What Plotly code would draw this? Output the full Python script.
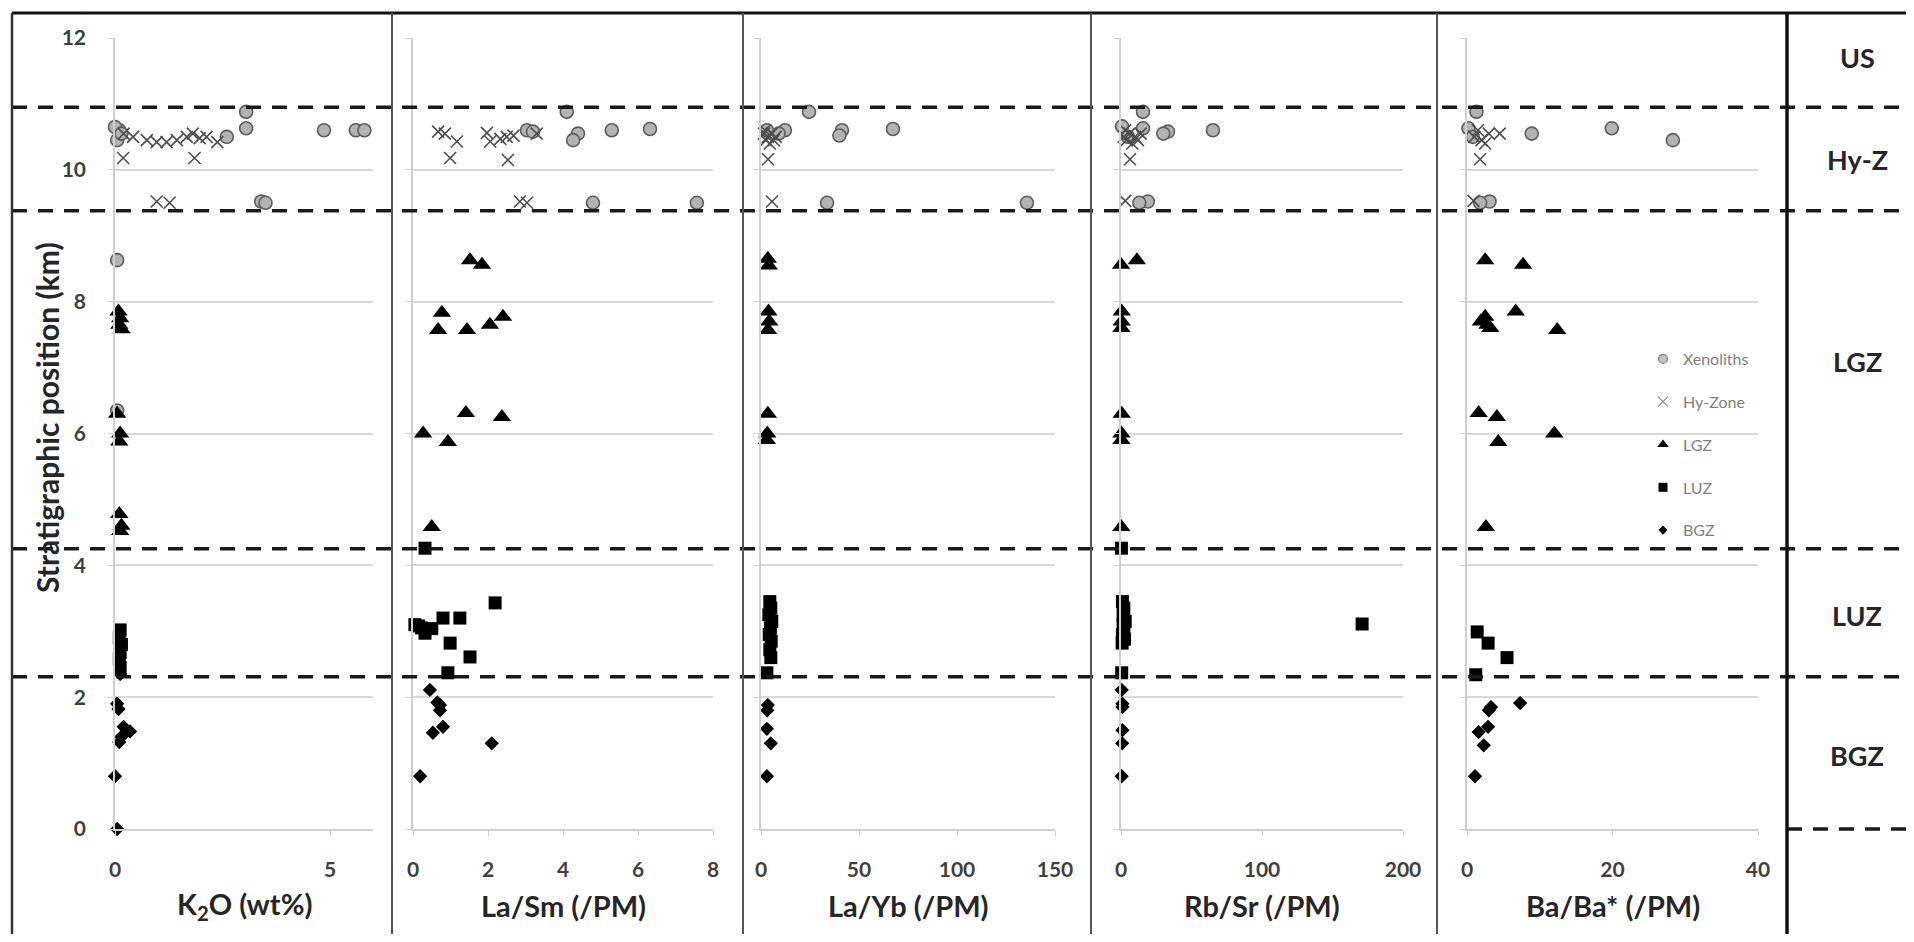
import plotly.graph_objects as go

# ---------------- data ----------------
CATEGORIES = ["Xenoliths", "Hy-Zone", "LGZ", "LUZ", "BGZ"]
X_TITLES = ["K<sub>2</sub>O (wt%)", "La/Sm (/PM)", "La/Yb (/PM)", "Rb/Sr (/PM)", "Ba/Ba* (/PM)"]
X_RANGES = [[0, 6], [0, 8], [0, 150], [0, 200], [0, 40]]
X_TICKS = [[0, 5], [0, 2, 4, 6, 8], [0, 50, 100, 150], [0, 100, 200], [0, 20, 40]]
Y_TICKS = [0, 2, 4, 6, 8, 10, 12]
ZONE_LABELS = ["US", "Hy-Z", "LGZ", "LUZ", "BGZ"]
ZONE_LABEL_Y = [11.71, 10.15, 7.09, 3.24, 1.12]
ZONE_BOUNDARIES = [10.95, 9.38, 4.25, 2.31]

# Panel 1: K2O (wt%)
K2O_XEN_X = [0.05, 0.1, 0.0, 0.15, 2.6, 3.05, 3.05, 4.86, 5.6, 5.8, 3.4, 3.5, 0.05, 0.05]
K2O_XEN_Y = [10.45, 10.6, 10.65, 10.55, 10.5, 10.88, 10.63, 10.6, 10.6, 10.6, 9.52, 9.5, 8.63, 6.35]
K2O_HYZ_X = [0.2, 0.42, 0.74, 0.97, 1.2, 1.44, 1.67, 1.81, 1.97, 2.13, 2.38, 0.19, 1.85, 0.97, 1.27]
K2O_HYZ_Y = [10.55, 10.5, 10.45, 10.42, 10.42, 10.45, 10.5, 10.55, 10.48, 10.5, 10.42, 10.18, 10.18, 9.52, 9.5]
K2O_LGZ_X = [0.08, 0.12, 0.1, 0.15, 0.05, 0.12, 0.1, 0.1, 0.15, 0.12]
K2O_LGZ_Y = [7.85, 7.75, 7.65, 7.58, 6.3, 6.0, 5.88, 4.78, 4.6, 4.52]
K2O_LUZ_X = [0.12, 0.1, 0.15, 0.12, 0.1, 0.12]
K2O_LUZ_Y = [3.02, 2.9, 2.8, 2.68, 2.58, 2.45]
K2O_BGZ_X = [0.12, 0.05, 0.08, 0.2, 0.35, 0.15, 0.1, 0.0, 0.05]
K2O_BGZ_Y = [2.35, 1.9, 1.82, 1.55, 1.48, 1.4, 1.32, 0.8, 0.0]

# Panel 2: La/Sm (/PM)
LASM_XEN_X = [4.1, 4.4, 4.27, 5.3, 6.32, 3.04, 3.2, 4.8, 7.57]
LASM_XEN_Y = [10.88, 10.55, 10.45, 10.6, 10.62, 10.6, 10.58, 9.5, 9.5]
LASM_HYZ_X = [0.67, 0.85, 1.17, 0.99, 1.97, 2.06, 2.33, 2.5, 2.68, 3.3, 2.53, 2.85, 3.04]
LASM_HYZ_Y = [10.58, 10.55, 10.43, 10.18, 10.56, 10.43, 10.47, 10.5, 10.52, 10.55, 10.15, 9.52, 9.5]
LASM_LGZ_X = [1.52, 1.84, 0.77, 0.67, 1.44, 2.05, 2.4, 0.27, 0.93, 1.41, 2.37, 0.5]
LASM_LGZ_Y = [8.63, 8.56, 7.83, 7.57, 7.57, 7.65, 7.77, 6.0, 5.87, 6.31, 6.25, 4.58]
LASM_LUZ_X = [0.32, 2.19, 0.8, 1.25, 0.05, 0.23, 0.32, 0.5, 0.99, 1.52, 0.93, 0.15]
LASM_LUZ_Y = [4.26, 3.43, 3.2, 3.2, 3.1, 3.05, 2.97, 3.04, 2.82, 2.61, 2.37, 3.08]
LASM_BGZ_X = [0.45, 0.72, 0.72, 0.8, 0.53, 2.1, 0.19, 0.65]
LASM_BGZ_Y = [2.11, 1.88, 1.8, 1.55, 1.46, 1.3, 0.8, 1.92]

# Panel 3: La/Yb (/PM)
LAYB_XEN_X = [24.5, 12.2, 9.0, 41.3, 40.0, 67.3, 33.7, 135.7, 3.0]
LAYB_XEN_Y = [10.88, 10.6, 10.55, 10.6, 10.52, 10.62, 9.5, 9.5, 10.6]
LAYB_HYZ_X = [1.5, 2.5, 3.5, 4.5, 5.5, 6.5, 7.5, 3.6, 5.6, 2.0]
LAYB_HYZ_Y = [10.55, 10.45, 10.5, 10.4, 10.55, 10.45, 10.5, 10.16, 9.52, 10.6]
LAYB_LGZ_X = [3.5, 4.0, 3.8, 4.2, 3.6, 3.5, 3.2, 3.0]
LAYB_LGZ_Y = [8.65, 8.55, 7.85, 7.7, 7.57, 6.3, 6.0, 5.9]
LAYB_LUZ_X = [4.5, 5.0, 4.0, 5.5, 4.8, 4.2, 5.2, 4.5, 5.0, 3.0]
LAYB_LUZ_Y = [3.45, 3.35, 3.25, 3.15, 3.05, 2.95, 2.85, 2.72, 2.6, 2.37]
LAYB_BGZ_X = [3.5, 3.2, 3.0, 5.0, 3.0]
LAYB_BGZ_Y = [1.88, 1.8, 1.52, 1.3, 0.8]

# Panel 4: Rb/Sr (/PM)
RBSR_XEN_X = [15.6, 15.6, 33.3, 30.0, 65.2, 0.7, 19.0, 13.0, 5.0]
RBSR_XEN_Y = [10.88, 10.63, 10.58, 10.55, 10.6, 10.66, 9.52, 9.5, 10.5]
RBSR_HYZ_X = [2, 4, 6, 8, 10, 12, 14, 3, 6.4, 3.0]
RBSR_HYZ_Y = [10.5, 10.45, 10.55, 10.4, 10.5, 10.45, 10.55, 10.6, 10.16, 9.53]
RBSR_LGZ_X = [0.0, 11.3, 0.5, 0.5, 0.3, 0.5, 0.3, 0.3, 0.2]
RBSR_LGZ_Y = [8.56, 8.63, 7.85, 7.7, 7.6, 6.3, 6.0, 5.9, 4.58]
RBSR_LUZ_X = [0.3, 1.0, 2.0, 1.5, 3.0, 2.0, 1.0, 2.5, 1.5, 0.8, 171.0, 0.5]
RBSR_LUZ_Y = [4.26, 3.45, 3.35, 3.25, 3.15, 3.05, 2.95, 2.88, 3.1, 2.82, 3.11, 2.37]
RBSR_BGZ_X = [0.5, 1.0, 1.0, 1.0, 0.8, 0.5]
RBSR_BGZ_Y = [2.11, 1.85, 1.9, 1.5, 1.3, 0.8]

# Panel 5: Ba/Ba* (/PM)
BABA_XEN_X = [1.3, 8.9, 19.9, 28.3, 0.2, 3.1, 1.8, 0.8]
BABA_XEN_Y = [10.88, 10.55, 10.63, 10.45, 10.63, 9.52, 9.5, 10.5]
BABA_HYZ_X = [1.0, 2.0, 3.0, 4.5, 2.5, 1.8, 0.9, 1.5]
BABA_HYZ_Y = [10.5, 10.45, 10.55, 10.55, 10.4, 10.16, 9.53, 10.6]
BABA_LGZ_X = [2.5, 7.7, 2.5, 3.2, 1.9, 6.7, 12.4, 1.6, 4.1, 4.3, 12.0, 2.6, 2.8]
BABA_LGZ_Y = [8.63, 8.56, 7.77, 7.6, 7.7, 7.85, 7.57, 6.31, 6.25, 5.87, 6.0, 4.58, 7.65]
BABA_LUZ_X = [1.4, 2.9, 5.5, 1.2]
BABA_LUZ_Y = [2.99, 2.82, 2.6, 2.34]
BABA_BGZ_X = [7.3, 3.3, 2.9, 1.6, 2.3, 1.1, 3.0]
BABA_BGZ_Y = [1.91, 1.85, 1.55, 1.47, 1.27, 0.8, 1.8]

PANEL_DATA = [
    [(K2O_XEN_X, K2O_XEN_Y), (K2O_HYZ_X, K2O_HYZ_Y), (K2O_LGZ_X, K2O_LGZ_Y), (K2O_LUZ_X, K2O_LUZ_Y), (K2O_BGZ_X, K2O_BGZ_Y)],
    [(LASM_XEN_X, LASM_XEN_Y), (LASM_HYZ_X, LASM_HYZ_Y), (LASM_LGZ_X, LASM_LGZ_Y), (LASM_LUZ_X, LASM_LUZ_Y), (LASM_BGZ_X, LASM_BGZ_Y)],
    [(LAYB_XEN_X, LAYB_XEN_Y), (LAYB_HYZ_X, LAYB_HYZ_Y), (LAYB_LGZ_X, LAYB_LGZ_Y), (LAYB_LUZ_X, LAYB_LUZ_Y), (LAYB_BGZ_X, LAYB_BGZ_Y)],
    [(RBSR_XEN_X, RBSR_XEN_Y), (RBSR_HYZ_X, RBSR_HYZ_Y), (RBSR_LGZ_X, RBSR_LGZ_Y), (RBSR_LUZ_X, RBSR_LUZ_Y), (RBSR_BGZ_X, RBSR_BGZ_Y)],
    [(BABA_XEN_X, BABA_XEN_Y), (BABA_HYZ_X, BABA_HYZ_Y), (BABA_LGZ_X, BABA_LGZ_Y), (BABA_LUZ_X, BABA_LUZ_Y), (BABA_BGZ_X, BABA_BGZ_Y)],
]

# ---------------- styling / layout ----------------
PAGE_W, PAGE_H = 1914, 942
BODY_MARGIN = 8                      # default page margin around the plot div
W, H = PAGE_W - 2 * BODY_MARGIN, PAGE_H - 2 * BODY_MARGIN
FONT = "Lato"

MARKERS = {
    "Xenoliths": dict(symbol="circle", size=13, color="#b3b3b3", line=dict(color="#5c5c5c", width=1.6)),
    "Hy-Zone": dict(symbol="x-thin-open", size=12, color="#4d4d4d", line=dict(color="#4d4d4d", width=1.6)),
    "LGZ": dict(symbol="triangle-up", size=16, color="#000000", line=dict(width=0)),
    "LUZ": dict(symbol="square", size=13, color="#000000", line=dict(width=0)),
    "BGZ": dict(symbol="diamond", size=11, color="#000000", line=dict(width=0)),
}
LEGEND_MARKERS = {
    "Xenoliths": dict(symbol="circle", size=9, color="#c0c0c0", line=dict(color="#808080", width=1.2)),
    "Hy-Zone": dict(symbol="x-thin-open", size=10, color="#8c8c8c", line=dict(color="#8c8c8c", width=1.2)),
    "LGZ": dict(symbol="triangle-up", size=10, color="#000000", line=dict(width=0)),
    "LUZ": dict(symbol="square", size=9, color="#000000", line=dict(width=0)),
    "BGZ": dict(symbol="diamond", size=7, color="#000000", line=dict(width=0)),
}

# target screen-pixel positions (page coordinates)
PANEL_PX = [(115, 373), (413, 713), (761, 1055), (1121, 1403), (1467, 1758)]
Y_TOP_PX, Y_BOT_PX = 38, 829
SEPARATORS_PX = [392, 743, 1091, 1437]
RIGHT_COL_PX = 1787
FRAME_LEFT_PX, FRAME_TOP_PX = 12, 13


def fx(p):
    return (p - BODY_MARGIN) / W


def fy(p):
    return 1 - (p - BODY_MARGIN) / H


fig = go.Figure()

for i, panel in enumerate(PANEL_DATA):
    xa = "x" if i == 0 else f"x{i + 1}"
    ya = "y" if i == 0 else f"y{i + 1}"
    for cat, (xs, ys) in zip(CATEGORIES, panel):
        fig.add_trace(go.Scatter(
            x=xs, y=ys, mode="markers", name=cat, xaxis=xa, yaxis=ya,
            marker=MARKERS[cat], showlegend=False, cliponaxis=False,
        ))

# legend entries
for cat in CATEGORIES:
    fig.add_trace(go.Scatter(
        x=[None], y=[None], mode="markers", name=cat, xaxis="x5", yaxis="y5",
        marker=LEGEND_MARKERS[cat], showlegend=True, legendgroup=cat,
    ))

layout = dict(
    width=W, height=H,
    margin=dict(l=0, r=0, t=0, b=0, autoexpand=False),
    paper_bgcolor="white", plot_bgcolor="white",
    font=dict(family=FONT),
    showlegend=True,
    legend=dict(
        x=fx(1643), y=fy(342), xanchor="left", yanchor="top",
        font=dict(family=FONT, size=16, color="#808080"),
        bgcolor="rgba(0,0,0,0)", tracegroupgap=19, itemwidth=30,
    ),
)

for i in range(5):
    xk = "xaxis" if i == 0 else f"xaxis{i + 1}"
    yk = "yaxis" if i == 0 else f"yaxis{i + 1}"
    xa = "x" if i == 0 else f"x{i + 1}"
    ya = "y" if i == 0 else f"y{i + 1}"
    x0, x1 = PANEL_PX[i]
    layout[xk] = dict(
        domain=[fx(x0), fx(x1)], range=X_RANGES[i], anchor=ya, automargin=False,
        tickmode="array", tickvals=X_TICKS[i],
        showgrid=False, zeroline=False,
        showline=True, linecolor="#cfcfcf", linewidth=1.5,
        ticks="outside", ticklen=5, tickcolor="#cfcfcf", tickwidth=1.2,
        tickfont=dict(family=FONT, size=21, color="#3f3f3f", weight="bold"),
        ticklabelstandoff=16, fixedrange=True,
    )
    layout[yk] = dict(
        domain=[fy(Y_BOT_PX), fy(Y_TOP_PX)], range=[0, 12], anchor=xa, automargin=False,
        tickmode="array", tickvals=Y_TICKS,
        showgrid=True, gridcolor="#d9d9d9", gridwidth=1.6, zeroline=False,
        showline=True, linecolor="#cfcfcf", linewidth=1.5,
        ticks="outside", ticklen=5, tickcolor="#cfcfcf", tickwidth=1.2,
        showticklabels=(i == 0),
        tickfont=dict(family=FONT, size=21, color="#3f3f3f", weight="bold"),
        ticklabelstandoff=18, fixedrange=True,
    )

fig.update_layout(**layout)

DASH = dict(color="#1a1a1a", width=3.5, dash="15px,11px")
shapes = []
# dashed zone boundaries across the whole figure
for yb in ZONE_BOUNDARIES:
    shapes.append(dict(type="line", xref="paper", yref="y", x0=fx(FRAME_LEFT_PX), x1=1.0, y0=yb, y1=yb, line=DASH))
# base of the BGZ (right column only), at y = 0 of the axes
shapes.append(dict(type="line", xref="paper", yref="paper", x0=fx(RIGHT_COL_PX), x1=1.0,
                   y0=fy(Y_BOT_PX), y1=fy(Y_BOT_PX), line=DASH))
# frame
shapes.append(dict(type="line", xref="paper", yref="paper", x0=fx(FRAME_LEFT_PX), x1=1.0, y0=fy(FRAME_TOP_PX), y1=fy(FRAME_TOP_PX),
                   line=dict(color="#111111", width=3)))
shapes.append(dict(type="line", xref="paper", yref="paper", x0=fx(FRAME_LEFT_PX), x1=fx(FRAME_LEFT_PX), y0=0, y1=fy(FRAME_TOP_PX),
                   line=dict(color="#333333", width=2.5)))
for sx in SEPARATORS_PX:
    shapes.append(dict(type="line", xref="paper", yref="paper", x0=fx(sx), x1=fx(sx), y0=0, y1=fy(FRAME_TOP_PX),
                       line=dict(color="#555555", width=2)))
shapes.append(dict(type="line", xref="paper", yref="paper", x0=fx(RIGHT_COL_PX), x1=fx(RIGHT_COL_PX), y0=0, y1=fy(FRAME_TOP_PX),
                   line=dict(color="#111111", width=3.5)))

annotations = []
# x-axis titles
for i, title in enumerate(X_TITLES):
    x0, x1 = PANEL_PX[i]
    annotations.append(dict(text=title, xref="paper", yref="paper", x=fx((x0 + x1) / 2), y=fy(905),
                            xanchor="center", yanchor="middle", showarrow=False,
                            font=dict(family=FONT, size=29, color="#262626", weight="bold")))
# y-axis title
annotations.append(dict(text="Stratigraphic position (km)", xref="paper", yref="paper", x=fx(47), y=fy(418),
                        xanchor="center", yanchor="middle", textangle=-90, showarrow=False,
                        font=dict(family=FONT, size=30, color="#262626", weight="bold")))
# zone labels
for lab, ly in zip(ZONE_LABELS, ZONE_LABEL_Y):
    annotations.append(dict(text=lab, xref="paper", yref="y", x=fx(1857), y=ly,
                            xanchor="center", yanchor="middle", showarrow=False,
                            font=dict(family=FONT, size=27, color="#262626", weight="bold")))

fig.update_layout(shapes=shapes, annotations=annotations)
fig.write_html("out.html")
